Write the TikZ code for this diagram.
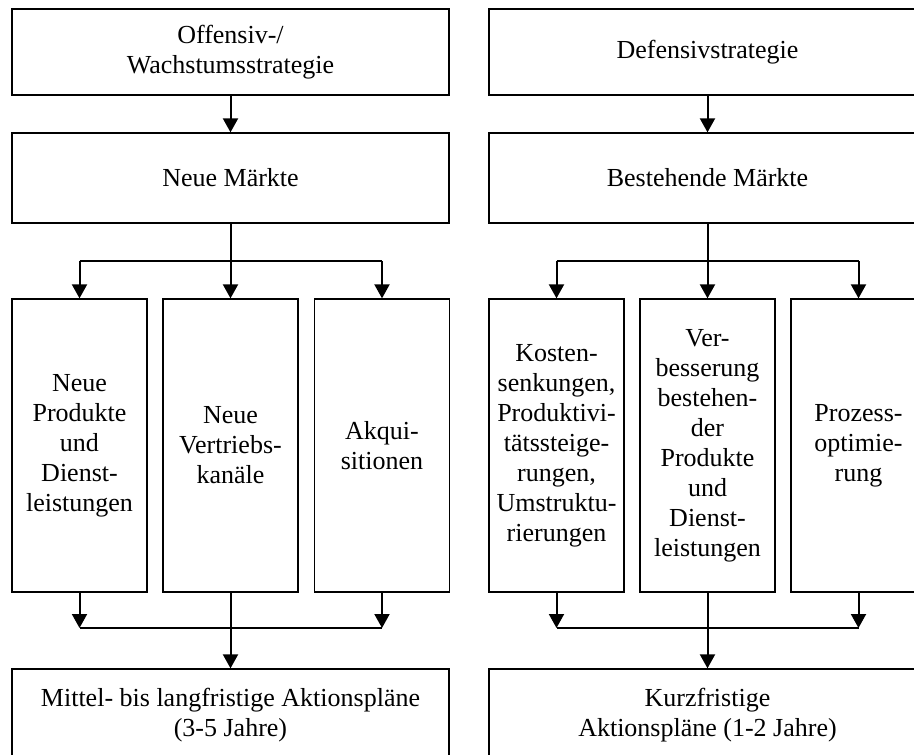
\documentclass[tikz,border=0pt]{standalone}
\usepackage{fontspec}
\setmainfont{Liberation Serif}
\usetikzlibrary{arrows.meta}
\tikzset{
  box/.style={draw, line width=1.3pt, align=center, inner sep=0pt,
    font=\fontsize{26}{30}\selectfont},
  widebox/.style={box, minimum width=437pt},
  colbox/.style={box, minimum width=135pt, minimum height=293pt},
  link/.style={line width=2pt},
  arr/.style={link, -{Triangle[length=14pt,width=15pt]}}
}
\begin{document}
\begin{tikzpicture}[x=1pt,y=1pt]
\useasboundingbox (0,0) rectangle (914,-755);
\clip (0,0) rectangle (914,-755);

% --- offensive / growth branch
\node[widebox, minimum height=86pt] (tl) at (230.5,-52) {Offensiv-/\\Wachstumsstrategie};
\node[widebox, minimum height=90pt] (ml) at (230.5,-178) {Neue Märkte};
\node[colbox] (la) at (79.5,-445.5) {Neue\\Produkte\\und\\Dienst-\\leistungen};
\node[colbox] (lb) at (230.5,-445.5) {Neue\\Vertriebs-\\kanäle};
\node[colbox] (lc) at (382,-445.5) {Akqui-\\sitionen};
\node[widebox, minimum height=92pt] (bl) at (230.5,-715) {Mittel- bis langfristige Aktionspläne\\(3-5 Jahre)};
\coordinate (brL) at (230.5,-261);
\coordinate (jnL) at (230.5,-628);

% --- defensive branch
\node[widebox, minimum height=86pt] (tr) at (707.5,-52) {Defensivstrategie};
\node[widebox, minimum height=90pt] (mr) at (707.5,-178) {Bestehende Märkte};
\node[colbox] (ra) at (556.5,-445.5) {Kosten-\\senkungen,\\Produktivi-\\tätssteige-\\rungen,\\Umstruktu-\\rierungen};
\node[colbox] (rb) at (707.5,-445.5) {Ver-\\besserung\\bestehen-\\der\\Produkte\\und\\Dienst-\\leistungen};
\node[colbox] (rc) at (858.5,-445.5) {Prozess-\\optimie-\\rung};
\node[widebox, minimum height=92pt] (br) at (707.5,-715) {Kurzfristige\\Aktionspläne (1-2 Jahre)};
\coordinate (brR) at (707.5,-261);
\coordinate (jnR) at (707.5,-628);

% --- connectors, left
\draw[arr] (tl.south) -- (ml.north);
\draw[arr] (ml.south) -- (lb.north);
\draw[link] (la.north |- brL) -- (lc.north |- brL);
\draw[arr] (la.north |- brL) -- (la.north);
\draw[arr] (lc.north |- brL) -- (lc.north);
\draw[link] (la.south |- jnL) -- (lc.south |- jnL);
\draw[arr] (la.south) -- (la.south |- jnL);
\draw[arr] (lc.south) -- (lc.south |- jnL);
\draw[arr] (lb.south) -- (bl.north);

% --- connectors, right
\draw[arr] (tr.south) -- (mr.north);
\draw[arr] (mr.south) -- (rb.north);
\draw[link] (ra.north |- brR) -- (rc.north |- brR);
\draw[arr] (ra.north |- brR) -- (ra.north);
\draw[arr] (rc.north |- brR) -- (rc.north);
\draw[link] (ra.south |- jnR) -- (rc.south |- jnR);
\draw[arr] (ra.south) -- (ra.south |- jnR);
\draw[arr] (rc.south) -- (rc.south |- jnR);
\draw[arr] (rb.south) -- (br.north);
\end{tikzpicture}
\end{document}
